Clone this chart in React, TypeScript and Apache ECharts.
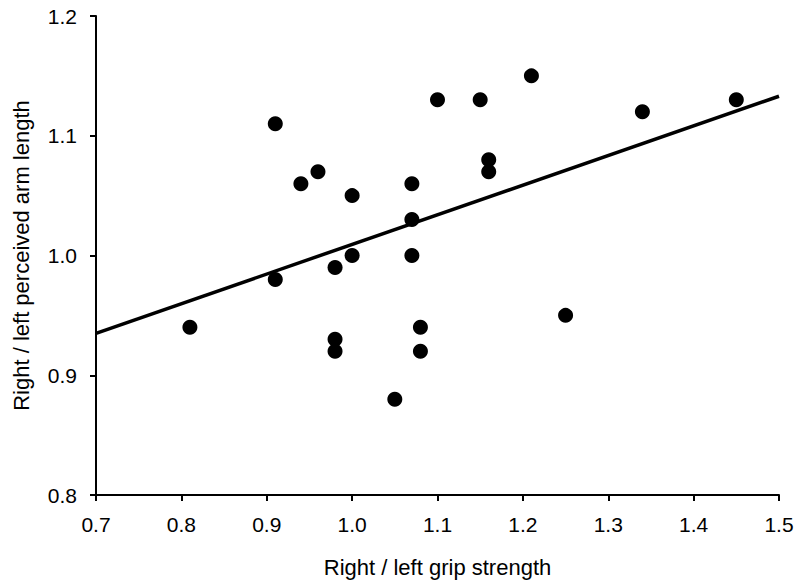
import React, { useEffect, useRef } from "react";
import * as echarts from "echarts";

const gripRatio = [0.81, 0.91, 0.91, 0.94, 0.96, 0.98, 0.98, 0.98, 1.0, 1.0, 1.05, 1.07, 1.07, 1.07, 1.08, 1.08, 1.1, 1.15, 1.16, 1.16, 1.21, 1.25, 1.34, 1.45];
const armRatio = [0.94, 1.11, 0.98, 1.06, 1.07, 0.99, 0.93, 0.92, 1.05, 1.0, 0.88, 1.06, 1.03, 1.0, 0.94, 0.92, 1.13, 1.13, 1.08, 1.07, 1.15, 0.95, 1.12, 1.13];
const fitX = [0.7, 1.5];
const fitY = [0.935, 1.133];

const xTitle = "Right / left grip strength";
const yTitle = "Right / left perceived arm length";

export default function App() {
  const ref = useRef<HTMLDivElement>(null);
  useEffect(() => {
    if (!ref.current) return;
    const chart = echarts.init(ref.current, null, { renderer: "svg" });
    const font = "'Liberation Sans', Arial, sans-serif";
    chart.setOption({
      animation: false,
      backgroundColor: "#ffffff",
      grid: { left: 96, right: 21, top: 16, bottom: 89, containLabel: false, outerBoundsMode: "none" },
      xAxis: {
        type: "value",
        min: 0.7,
        max: 1.5,
        interval: 0.1,
        name: xTitle,
        nameLocation: "middle",
        nameGap: 61,
        nameTextStyle: { color: "#000", fontSize: 22, fontFamily: font },
        axisLine: { show: true, lineStyle: { color: "#000", width: 2 } },
        axisTick: { show: true, length: 6, lineStyle: { color: "#000", width: 2 } },
        axisLabel: {
          color: "#000",
          fontSize: 21,
          fontFamily: font,
          margin: 19,
          formatter: (v: number) => v.toFixed(1),
        },
        splitLine: { show: false },
      },
      yAxis: {
        type: "value",
        min: 0.8,
        max: 1.2,
        interval: 0.1,
        name: yTitle,
        nameLocation: "middle",
        nameGap: 64,
        nameTextStyle: { color: "#000", fontSize: 22, fontFamily: font },
        axisLine: { show: true, lineStyle: { color: "#000", width: 2 } },
        axisTick: { show: true, length: 6, lineStyle: { color: "#000", width: 2 } },
        axisLabel: {
          color: "#000",
          fontSize: 21,
          fontFamily: font,
          margin: 19,
          formatter: (v: number) => v.toFixed(1),
        },
        splitLine: { show: false },
      },
      series: [
        {
          type: "line",
          data: fitX.map((x, i) => [x, fitY[i]]),
          symbol: "none",
          lineStyle: { color: "#000", width: 3.5 },
          z: 2,
        },
        {
          type: "scatter",
          data: gripRatio.map((x, i) => [x, armRatio[i]]),
          symbol: "circle",
          symbolSize: 15,
          itemStyle: { color: "#000", opacity: 1 },
          z: 3,
        },
      ],
    });
    return () => chart.dispose();
  }, []);
  return <div ref={ref} style={{ width: 800, height: 584, position: "absolute", left: 0, top: 0 }} />;
}
